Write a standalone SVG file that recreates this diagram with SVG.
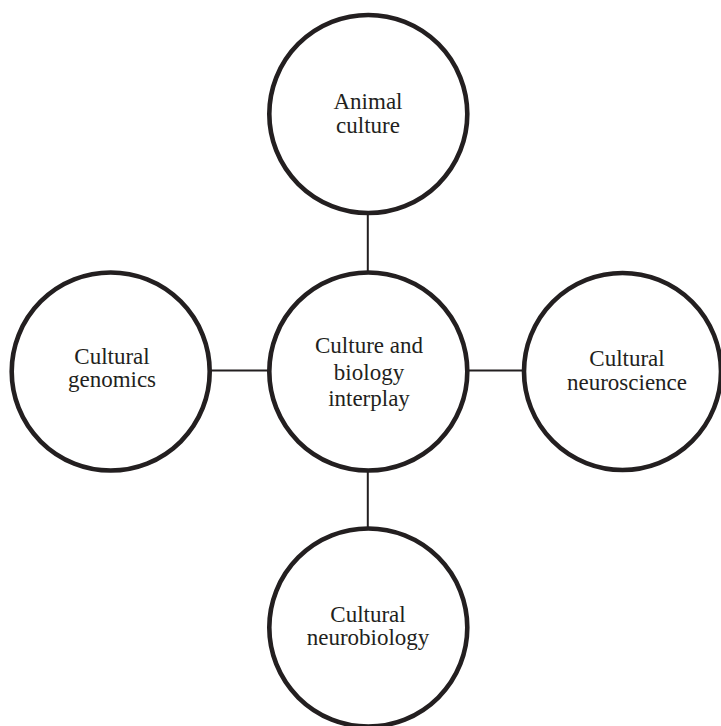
<svg xmlns="http://www.w3.org/2000/svg" width="721" height="726" viewBox="0 0 721 726">
<style>
.node circle{fill:#fff;stroke:#231f20;stroke-width:4.6}
.node text{font-family:"Liberation Serif","Times New Roman",serif;font-size:23px;fill:#231f20;text-anchor:middle}
.conn line{stroke:#231f20;stroke-width:2}
</style>
<rect width="721" height="726" fill="#fff"/>
<g id="connectors" class="conn">
<line x1="367.8" y1="214" x2="367.8" y2="271"/>
<line x1="367.8" y1="472" x2="367.8" y2="528"/>
<line x1="211" y1="370.5" x2="268" y2="370.5"/>
<line x1="468" y1="370.5" x2="524" y2="370.5"/>
</g>
<g id="node-center" class="node">
<circle cx="368.3" cy="371.5" r="99"/>
<text x="369" y="353">Culture and</text>
<text x="369" y="379.5">biology</text>
<text x="369" y="406">interplay</text>
</g>
<g id="node-animal" class="node">
<circle cx="368.3" cy="114" r="99"/>
<text x="368" y="108.5">Animal</text>
<text x="368" y="132.5">culture</text>
</g>
<g id="node-genomics" class="node">
<circle cx="110.7" cy="371.5" r="99"/>
<text x="112" y="363.5">Cultural</text>
<text x="112" y="387">genomics</text>
</g>
<g id="node-neuroscience" class="node">
<circle cx="622.5" cy="371.5" r="98.5"/>
<text x="627" y="366">Cultural</text>
<text x="627" y="389.5">neuroscience</text>
</g>
<g id="node-neurobiology" class="node">
<circle cx="368.3" cy="627.5" r="99"/>
<text x="368" y="621.5">Cultural</text>
<text x="368" y="644.5">neurobiology</text>
</g>
</svg>
